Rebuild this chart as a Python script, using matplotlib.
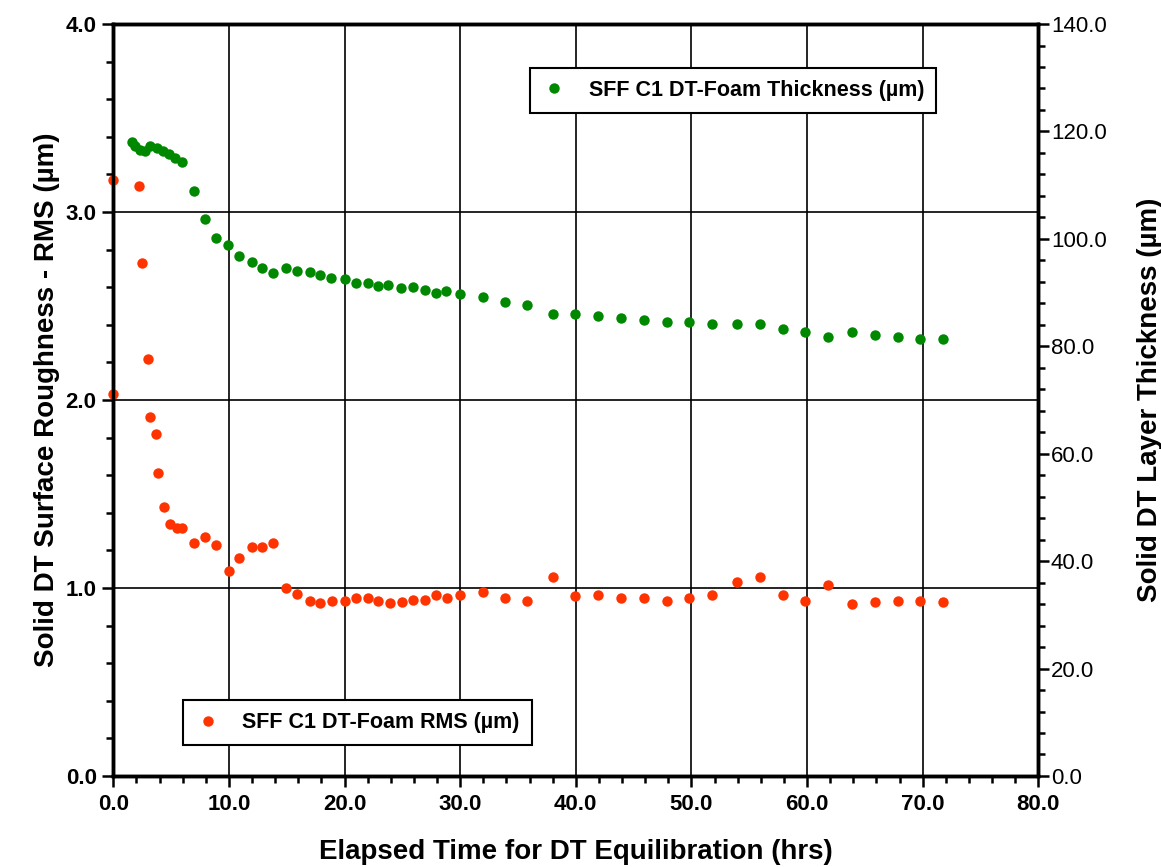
import matplotlib.pyplot as plt
from matplotlib.ticker import MultipleLocator, FormatStrFormatter

plt.rcParams["font.family"] = ["Liberation Sans", "DejaVu Sans"]

# RMS roughness (left axis, um) vs elapsed time (hrs)
rms_time = [0.0, 0.0, 2.2, 2.5, 3.0, 3.2, 3.7, 3.9, 4.4, 4.9, 5.5, 5.9,
            7.0, 7.9, 8.9, 10.0, 10.9, 12.0, 12.9, 13.8, 14.9, 15.9, 17.0,
            17.9, 18.9, 20.0, 21.0, 22.0, 22.9, 23.9, 25.0, 25.9, 27.0, 27.9,
            28.9, 30.0, 32.0, 33.9, 35.8, 38.0, 39.9, 41.9, 43.9, 45.9, 47.9,
            49.8, 51.8, 53.9, 55.9, 57.9, 59.8, 61.8, 63.9, 65.9, 67.9, 69.8,
            71.8]
rms_value = [3.17, 2.03, 3.14, 2.73, 2.22, 1.91, 1.82, 1.61, 1.43, 1.34, 1.32,
             1.32, 1.24, 1.27, 1.23, 1.09, 1.16, 1.22, 1.22, 1.24, 1.00, 0.97,
             0.93, 0.92, 0.93, 0.93, 0.945, 0.945, 0.93, 0.92, 0.924, 0.936,
             0.936, 0.963, 0.945, 0.96, 0.98, 0.945, 0.93, 1.06, 0.957, 0.963,
             0.945, 0.945, 0.93, 0.945, 0.96, 1.03, 1.06, 0.96, 0.93, 1.016,
             0.913, 0.924, 0.93, 0.93, 0.924]

# layer thickness (right axis, um)
thk_time = [1.6, 1.9, 2.3, 2.7, 3.2, 3.8, 4.3, 4.8, 5.3, 5.9,
            7.0, 7.9, 8.9, 9.9, 10.9, 12.0, 12.9, 13.8, 14.9, 15.9, 17.0,
            17.9, 18.8, 20.0, 21.0, 22.0, 22.9, 23.8, 24.9, 25.9, 27.0, 27.9,
            28.8, 30.0, 32.0, 33.9, 35.8, 38.0, 39.9, 41.9, 43.9, 45.9, 47.9,
            49.8, 51.8, 53.9, 55.9, 57.9, 59.8, 61.8, 63.9, 65.9, 67.9, 69.8,
            71.8]
thk_value = [118.1, 117.2, 116.5, 116.3, 117.2, 116.9, 116.4, 115.8, 115.0,
             114.4, 109.0, 103.7, 100.1, 98.9, 96.9, 95.7, 94.5, 93.7, 94.6,
             94.1, 93.8, 93.3, 92.8, 92.5, 91.7, 91.7, 91.2, 91.4, 90.9, 91.0,
             90.5, 90.0, 90.2, 89.7, 89.2, 88.2, 87.7, 86.1, 86.1, 85.7, 85.3,
             84.9, 84.6, 84.6, 84.1, 84.1, 84.1, 83.3, 82.6, 81.8, 82.6, 82.1,
             81.8, 81.3, 81.3]

GREEN = "#008800"
RED = "#FF3300"

fig = plt.figure(figsize=(11.61, 8.67), dpi=100)
ax = fig.add_axes([0.0976, 0.105, 0.7967, 0.8673])
ax2 = ax.twinx()

ax.grid(True, which="major", color="black", linewidth=1.2)
ax.set_axisbelow(True)

r = ax.plot(rms_time, rms_value, "o", color=RED, markersize=7.5, markeredgewidth=0,
            label="SFF C1 DT-Foam RMS (\u00b5m)", zorder=3, clip_on=False)[0]
g = ax2.plot(thk_time, thk_value, "o", color=GREEN, markersize=7.5, markeredgewidth=0,
             label="SFF C1 DT-Foam Thickness (\u00b5m)", zorder=3, clip_on=False)[0]

ax.set_xlim(0, 80)
ax.set_ylim(0, 4)
ax2.set_ylim(0, 140)

ax.xaxis.set_major_locator(MultipleLocator(10))
ax.xaxis.set_minor_locator(MultipleLocator(2))
ax.yaxis.set_major_locator(MultipleLocator(1))
ax.yaxis.set_minor_locator(MultipleLocator(0.2))
ax2.yaxis.set_major_locator(MultipleLocator(20))
ax2.yaxis.set_minor_locator(MultipleLocator(4))
ax.xaxis.set_major_formatter(FormatStrFormatter("%.1f"))
ax.yaxis.set_major_formatter(FormatStrFormatter("%.1f"))
ax2.yaxis.set_major_formatter(FormatStrFormatter("%.1f"))

for a in (ax, ax2):
    for s in a.spines.values():
        s.set_linewidth(2.5)
    a.tick_params(which="major", length=8, width=1.8, direction="out", labelsize=16)
    a.tick_params(which="minor", length=5, width=1.8, direction="out")

for lbl in ax.get_xticklabels() + ax.get_yticklabels():
    lbl.set_fontweight("bold")
ax.tick_params(axis="x", pad=5)
ax.tick_params(axis="y", pad=4)
ax2.tick_params(axis="y", pad=1)

ax.set_xlabel("Elapsed Time for DT Equilibration (hrs)", fontsize=20,
              fontweight="bold", labelpad=17)
ax.set_ylabel("Solid DT Surface Roughness - RMS (\u00b5m)", fontsize=20,
              fontweight="bold", labelpad=4)
ax2.set_ylabel("Solid DT Layer Thickness (\u00b5m)", fontsize=20,
               fontweight="bold", labelpad=22)

leg_style = dict(frameon=True, fancybox=False, edgecolor="black", framealpha=1,
                 handletextpad=1.0, borderpad=0.55, handlelength=1.2,
                 prop={"weight": "bold", "size": 15.5})
leg_g = ax2.legend(handles=[g], loc="upper left", bbox_to_anchor=(0.45, 0.9415),
                   borderaxespad=0, **leg_style)
leg_g.get_frame().set_linewidth(1.5)
ax2.add_artist(leg_g)
leg_r = ax2.legend(handles=[r], loc="lower left", bbox_to_anchor=(0.0756, 0.041),
                   borderaxespad=0, **leg_style)
leg_r.get_frame().set_linewidth(1.5)

fig.savefig("out.png", dpi=100)
